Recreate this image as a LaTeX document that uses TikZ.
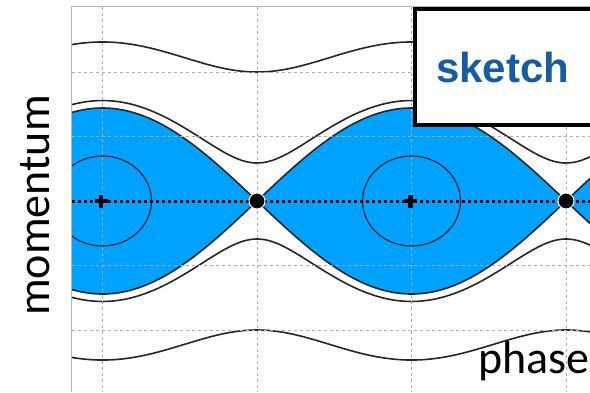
\documentclass[tikz,border=0pt]{standalone}
\usepackage{fontspec}
\setmainfont{Carlito}
\newfontfamily\arialfont{Liberation Sans}
\definecolor{sepblue}{RGB}{0,162,255}
\definecolor{txtblue}{RGB}{22,92,160}
\begin{document}
\begin{tikzpicture}[x=1pt,y=-1pt,
  gridline/.style={gray!65, line width=0.9pt, dash pattern=on 3pt off 3pt},
  frameline/.style={gray!55, line width=1.4pt},
  orbit/.style={black!85, line width=1.6pt},
  smallorbit/.style={black!90, line width=1.1pt},
  axisdots/.style={black, line width=3pt, dash pattern=on 3pt off 3pt},
  plusmark/.style={black, line width=4.5pt},
  xdot/.style={circle, fill=black, draw=white, line width=1pt, minimum size=16pt, inner sep=0pt},
  labelbox/.style={draw=black, line width=4pt, fill=white},
  axislabel/.style={inner sep=0pt, font=\fontsize{46}{46}\selectfont}
]
\useasboundingbox (0,0) rectangle (590,392);
\begin{scope}
  \clip (72,7) rectangle (590,392);
  % separatrix fill
  \fill[sepblue] plot[domain=72:590, samples=519] (\x,{201-93*abs(cos(((\x-102.5)/309)*180))})
     -- plot[domain=590:72, samples=519] (\x,{201+93*abs(cos(((\x-102.5)/309)*180))}) -- cycle;
  % separatrix outline
  \draw[orbit] plot[domain=72:590, samples=519] (\x,{201-93*abs(cos(((\x-102.5)/309)*180))});
  \draw[orbit] plot[domain=72:590, samples=519] (\x,{201+93*abs(cos(((\x-102.5)/309)*180))});
  % passing orbits
  \foreach \px in {3.8,12.9}{
    \draw[orbit] plot[domain=72:590, samples=200] (\x,{201-10*sqrt((\px)^2+(9.3*cos(((\x-102.5)/309)*180))^2)});
    \draw[orbit] plot[domain=72:590, samples=200] (\x,{201+10*sqrt((\px)^2+(9.3*cos(((\x-102.5)/309)*180))^2)});
  }
  % trapped orbits
  \draw[smallorbit] (102.5,201) ellipse [x radius=49, y radius=45];
  \draw[smallorbit] (411.5,201) ellipse [x radius=49, y radius=45];
  % grid
  \foreach \gx in {102.5,257,411.5,566}
    \draw[gridline] (\gx,7) -- (\gx,392);
  \foreach \gy in {72,136.5,265.5,330}
    \draw[gridline] (72,\gy) -- (590,\gy);
  % axis dotted line
  \draw[axisdots] (72,201) -- (590,201);
\end{scope}
% frame
\draw[frameline] (71.7,392) -- (71.7,6.7) -- (590,6.7);
% O points
\coordinate (o1) at (101,201);
\coordinate (o2) at (410.5,201);
\draw[plusmark] (o1) ++(-6.5,0) -- ++(13,0);
\draw[plusmark] (o1) ++(0,-6.5) -- ++(0,13);
\draw[plusmark] (o2) ++(-6.5,0) -- ++(13,0);
\draw[plusmark] (o2) ++(0,-6.5) -- ++(0,13);
% X points
\node[xdot] (x1) at (257,201) {};
\node[xdot] (x2) at (566,201) {};
% label box
\draw[labelbox] (414.7,8.8) rectangle (620,124.5);
\node[anchor=base west, inner sep=0pt, text=txtblue, font=\arialfont\bfseries\fontsize{42}{42}\selectfont] (sketch) at (436,82.7) {sketch};
% axis labels
\node[axislabel, rotate=90, anchor=base] (ylabel) at (49.5,205.5) {momentum};
\node[axislabel, anchor=base west] (xlabel) at (478,373) {phase};
\end{tikzpicture}
\end{document}
